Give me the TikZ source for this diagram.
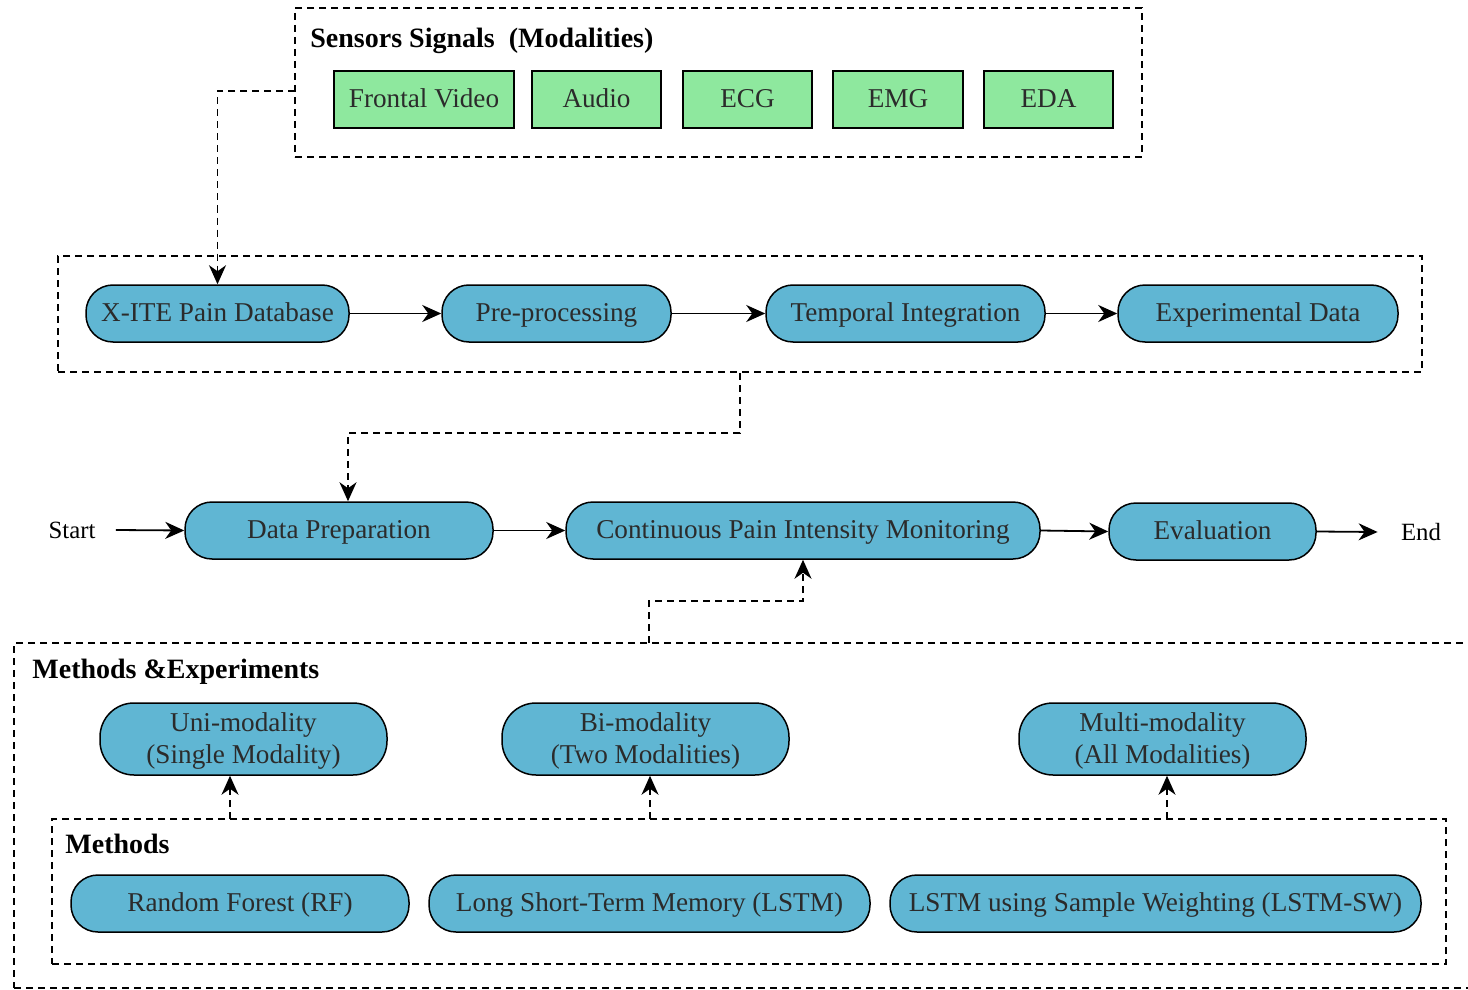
\documentclass[tikz,border=0pt]{standalone}
\usepackage{fontspec}
\setmainfont{Liberation Serif}
\usetikzlibrary{arrows.meta,calc}

\definecolor{pillblue}{RGB}{96,182,211}
\definecolor{sigreen}{RGB}{142,232,158}
\definecolor{txtgray}{RGB}{43,43,43}

\tikzset{
  body/.style={font=\fontsize{13.6}{16}\selectfont},
  pill/.style={body, draw=black, line width=0.75pt, fill=pillblue, text=txtgray,
    rounded corners=13.5pt, minimum height=28.5pt, inner sep=0pt, align=center,
    text height=10.6pt, text depth=2.6pt},
  tallpill/.style={body, draw=black, line width=0.75pt, fill=pillblue, text=txtgray,
    rounded corners=17pt, minimum height=36pt, inner sep=0pt, align=center,
    text depth=1pt},
  sigbox/.style={body, draw=black, line width=0.75pt, fill=sigreen, text=txtgray,
    minimum height=28.5pt, inner sep=0pt, text height=10.2pt, text depth=2.6pt},
  groupbox/.style={draw=black, line width=1pt, dash pattern=on 3.5pt off 2.5pt,
    inner sep=0pt},
  grouptitle/.style={font=\fontsize{14}{16}\selectfont\bfseries, anchor=west, inner sep=0pt},
  plainlabel/.style={font=\fontsize{12.4}{15}\selectfont, inner sep=0pt},
  arr/.style={line width=0.9pt, -{Stealth[length=9.5pt,width=8.5pt,inset=3pt]}},
  darr/.style={arr, dash pattern=on 3.5pt off 2.5pt}
}

\begin{document}
\begin{tikzpicture}[x=0.5pt,y=-0.5pt]
\useasboundingbox (0,0) rectangle (1468,990);

% ---- sensor signals group ----
\node[groupbox, minimum width=423.5pt, minimum height=74.5pt] (sens) at (718.5,82.5) {};
\node[grouptitle] (senstitle) at (310,41) {Sensors Signals\ \ (Modalities)};
\node[sigbox, minimum width=90pt]  (video) at (424,99.5)   {Frontal Video};
\node[sigbox, minimum width=64.5pt] (audio) at (596.5,99.5) {Audio};
\node[sigbox, minimum width=64.5pt] (ecg)   at (747.5,99.5) {ECG};
\node[sigbox, minimum width=65pt]  (emg)   at (898,99.5)   {EMG};
\node[sigbox, minimum width=64.5pt] (eda)   at (1048.5,99.5){EDA};

% ---- data processing group ----
\node[groupbox, minimum width=682pt, minimum height=58pt] (proc) at (740,314) {};
\node[pill, minimum width=131.5pt] (xite) at (217.5,313.5) {X-ITE Pain Database};
\node[pill, minimum width=114.5pt] (pre)  at (556.5,313.5) {Pre-processing};
\node[pill, minimum width=139.5pt] (temp) at (905.5,313.5) {Temporal Integration};
\node[pill, minimum width=140pt]   (expd) at (1258,313.5)  {Experimental Data};

\draw[arr] (xite) -- (pre);
\draw[arr] (pre) -- (temp);
\draw[arr] (temp) -- (expd);

\coordinate (sensout) at (295,91);
\draw[darr] (sensout) -| (xite.north);

% ---- main pipeline ----
\node[plainlabel] (start) at (72,530) {Start};
\node[pill, minimum width=154pt] (prep) at (339,530.5)  {Data Preparation};
\node[pill, minimum width=237pt] (cpim) at (803,530.5)  {Continuous Pain Intensity Monitoring};
\node[pill, minimum width=103.5pt] (eval) at (1212.5,531.5) {Evaluation};
\node[plainlabel] (fin) at (1421,532) {End};

\draw[arr] ([xshift=10pt]start.east) -- (prep.west);
\draw[arr] (prep) -- (cpim);
\draw[arr] (cpim.east) -- (eval.west);
\draw[arr] (eval.east) -- ([xshift=-11.5pt]fin.west);

\draw[darr] (proc.south) -- ++(0,60) -| ([xshift=4.5pt]prep.north);

% ---- methods and experiments group ----
\node[groupbox, minimum width=738pt, minimum height=172.5pt] (mexp) at (752,815.5) {};
\node[grouptitle] (mexptitle) at (32,672) {Methods \&Experiments};
\coordinate (mexpout) at (649,643);
\draw[darr] (mexpout) -- ++(0,-42) -| (cpim.south);

\node[tallpill, minimum width=143.5pt] (uni)   at (243.5,739)  {Uni-modality\\(Single Modality)};
\node[tallpill, minimum width=143.5pt] (bi)    at (645.5,739)  {Bi-modality\\(Two Modalities)};
\node[tallpill, minimum width=143.5pt] (multi) at (1162.5,739) {Multi-modality\\(All Modalities)};

% ---- methods group ----
\node[groupbox, minimum width=697pt, minimum height=72.5pt] (meth) at (749,891.5) {};
\node[grouptitle] (methtitle) at (65,844) {Methods};
\node[pill, minimum width=169pt]   (rf)   at (240,903.5)   {Random Forest (RF)};
\node[pill, minimum width=220.5pt] (lstm) at (649.5,903.5) {Long Short-Term Memory (LSTM)};
\node[pill, minimum width=265.5pt] (lsw)  at (1155.5,903.5){LSTM using Sample Weighting (LSTM-SW)};

\coordinate (m1) at (230,819);
\coordinate (m2) at (650,819);
\coordinate (m3) at (1167,819);
\draw[darr] (m1) -- (m1 |- uni.south);
\draw[darr] (m2) -- (m2 |- bi.south);
\draw[darr] (m3) -- (m3 |- multi.south);
\end{tikzpicture}
\end{document}
